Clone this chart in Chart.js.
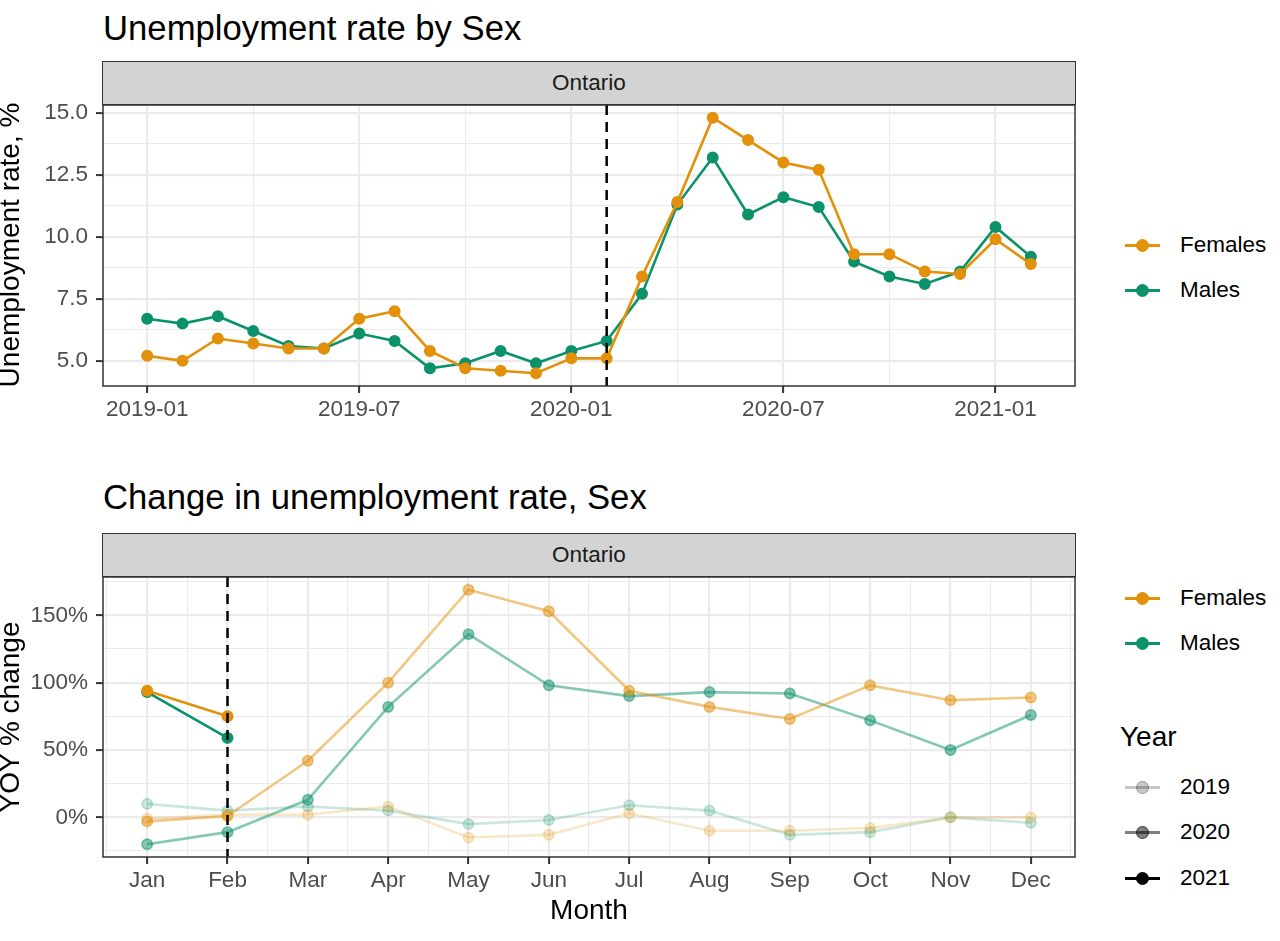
<!DOCTYPE html>
<html>
<head>
<meta charset="utf-8">
<title>Unemployment rate by Sex</title>
<script src="https://cdn.jsdelivr.net/npm/chart.js@4.4.1/dist/chart.umd.min.js"></script>
<style>
  body { margin:0; background:#fff; font-family:"Liberation Sans", Arial, sans-serif; }
  #page { position:relative; width:1280px; height:941px; overflow:hidden; background:#fff; }
  .abs { position:absolute; white-space:nowrap; }
  .title { left:103px; font-size:34.7px; line-height:34px; color:#000; }
  .strip { position:absolute; left:102px; width:974px; height:44px; box-sizing:border-box;
           background:#d3d3d3; border:1.5px solid #333; text-align:center;
           font-size:22.5px; line-height:41px; color:#1a1a1a; }
  .ytitle { font-size:28px; line-height:28px; color:#000; transform:translate(-50%,-50%) rotate(-90deg); }
  .xtitle { font-size:28px; line-height:28px; color:#000; transform:translateX(-50%); }
  .leg { font-size:22.5px; line-height:22.5px; color:#000; }
  .legtitle { font-size:28px; line-height:28px; color:#000; }
  canvas { position:absolute; left:0; }
</style>
</head>
<body>
<div id="page">
  <canvas id="rateChart" width="1090" height="380" style="top:60px"></canvas>
  <canvas id="yoyChart" width="1090" height="400" style="top:532px"></canvas>

  <div class="abs title" style="top:11px">Unemployment rate by Sex</div>
  <div class="strip" style="top:61px">Ontario</div>
  <div class="abs ytitle" style="left:10px;top:245px">Unemployment rate, %</div>

  <div class="abs title" style="top:480px">Change in unemployment rate, Sex</div>
  <div class="strip" style="top:533px">Ontario</div>
  <div class="abs ytitle" style="left:10px;top:717px">YOY % change</div>
  <div class="abs xtitle" style="left:589px;top:896px">Month</div>
</div>

<script>
// ---- data ----
const rateMonths = ['2019-01','2019-02','2019-03','2019-04','2019-05','2019-06','2019-07','2019-08','2019-09','2019-10','2019-11','2019-12',
                    '2020-01','2020-02','2020-03','2020-04','2020-05','2020-06','2020-07','2020-08','2020-09','2020-10','2020-11','2020-12',
                    '2021-01','2021-02'];
const femalesRate = [5.2,5.0,5.9,5.7,5.5,5.5,6.7,7.0,5.4,4.7,4.6,4.5, 5.1,5.1,8.4,11.4,14.8,13.9,13.0,12.7,9.3,9.3,8.6,8.5, 9.9,8.9];
const malesRate   = [6.7,6.5,6.8,6.2,5.6,5.5,6.1,5.8,4.7,4.9,5.4,4.9, 5.4,5.8,7.7,11.3,13.2,10.9,11.6,11.2,9.0,8.4,8.1,8.6, 10.4,9.2];
const rateTickLabels = ['2019-01','2019-07','2020-01','2020-07','2021-01'];
const rateYTicks = [5, 7.5, 10, 12.5, 15];
const rateMarker = '2020-02';

const monthNames = ['Jan','Feb','Mar','Apr','May','Jun','Jul','Aug','Sep','Oct','Nov','Dec'];
const femalesYoy2019 = [-1, 2, 2, 8, -15, -13, 3, -10, -10, -8, 0, 0];
const malesYoy2019   = [10, 5, 8, 5, -5, -2, 9, 5, -13, -11, 0, -4];
const femalesYoy2020 = [-3, 1, 42, 100, 169, 153, 94, 82, 73, 98, 87, 89];
const malesYoy2020   = [-20, -11, 13, 82, 136, 98, 90, 93, 92, 72, 50, 76];
const femalesYoy2021 = [94, 75];
const malesYoy2021   = [93, 59];
const yoyYTicks = [0, 50, 100, 150];
const yoyMarker = 'Feb';

const sexNames = ['Females','Males'];
const years = ['2019','2020','2021'];
const yearAlpha = [0.22, 0.5, 1];

// ---- style ----
const FONT = '"Liberation Sans", Arial, sans-serif';
const ORANGE = '#E3900A';
const GREEN = '#0C926A';

function rgba(hex, a){
  const n = parseInt(hex.slice(1), 16);
  return `rgba(${(n>>16)&255},${(n>>8)&255},${n&255},${a})`;
}
function monthIndex(s){
  const [y,m] = s.split('-').map(Number);
  return (y-2019)*12 + (m-1);
}
function expand(lo, hi){ const d = (hi-lo)*0.05; return [lo-d, hi+d]; }
function halves(majors){
  const step = majors[1]-majors[0], out = [];
  for(let i=-1;i<majors.length;i++) out.push(majors[0] + step*(i+0.5));
  return out;
}

function series(label, data, color, alpha){
  return {
    label, data,
    borderColor: rgba(color, alpha),
    backgroundColor: rgba(color, alpha),
    borderWidth: 2.6,
    pointRadius: 5.2,
    pointHoverRadius: 5.2,
    pointBorderWidth: 1.6,
    pointBackgroundColor: rgba(color, alpha),
    pointBorderColor: rgba(color, alpha),
    tension: 0,
    fill: false
  };
}

function axis(range, majors, fmt, fitSize, horizontal){
  const minors = halves(majors).filter(v => v > range[0] && v < range[1]);
  const isMajor = v => majors.includes(v);
  return {
    type: 'linear', min: range[0], max: range[1],
    afterBuildTicks: s => { s.ticks = majors.concat(minors).sort((a,b)=>a-b).map(v => ({value: v})); },
    afterFit: s => { if(horizontal) s.height = fitSize; else s.width = fitSize; },
    ticks: {
      autoSkip: false, maxRotation: 0, minRotation: 0,
      padding: horizontal ? 3 : 8,
      color: '#4d4d4d',
      font: { size: 22.5, family: FONT },
      callback: v => isMajor(v) ? fmt(v) : ''
    },
    grid: {
      color: '#ebebeb',
      lineWidth: c => (c.tick && isMajor(c.tick.value)) ? 2.2 : 1.1,
      tickLength: 7,
      tickWidth: 2,
      tickColor: c => (c.tick && isMajor(c.tick.value)) ? '#333' : 'rgba(0,0,0,0)'
    },
    border: { display: false }
  };
}

// dashed marker + panel border, on top of the data
const panelDecor = {
  id: 'panelDecor',
  afterDatasetsDraw(chart, args, opts){
    const {ctx, chartArea: a, scales} = chart;
    ctx.save();
    if(opts.vx !== undefined){
      const px = scales.x.getPixelForValue(opts.vx);
      ctx.strokeStyle = '#000';
      ctx.lineWidth = 2.5;
      ctx.setLineDash([10, 7]);
      ctx.beginPath();
      ctx.moveTo(px, a.top);
      ctx.lineTo(px, a.bottom);
      ctx.stroke();
    }
    ctx.setLineDash([]);
    ctx.strokeStyle = '#333';
    ctx.lineWidth = 1.5;
    ctx.strokeRect(a.left, a.top, a.right - a.left, a.bottom - a.top);
    ctx.restore();
  }
};

function baseOptions(padTop, vx, xScale, yScale){
  return {
    animation: false, responsive: false, devicePixelRatio: 1, events: [],
    layout: { padding: { top: padTop, right: 15, left: 0, bottom: 0 } },
    plugins: { legend: { display: false }, tooltip: { enabled: false }, panelDecor: { vx } },
    scales: { x: xScale, y: yScale }
  };
}

// ---- top chart: rate by sex ----
const rateX = rateMonths.map(monthIndex);
const rateMajorX = rateTickLabels.map(monthIndex);
const allRates = femalesRate.concat(malesRate);

new Chart(document.getElementById('rateChart'), {
  type: 'line',
  data: { datasets: [
    series(sexNames[0], femalesRate.map((v,i) => ({x: rateX[i], y: v})), ORANGE, 1),
    series(sexNames[1], malesRate.map((v,i) => ({x: rateX[i], y: v})), GREEN, 1)
  ]},
  options: baseOptions(45, monthIndex(rateMarker),
    axis(expand(rateX[0], rateX[rateX.length-1]), rateMajorX, v => rateTickLabels[rateMajorX.indexOf(v)], 54, true),
    axis(expand(Math.min(...allRates), Math.max(...allRates)), rateYTicks, v => v.toFixed(1), 103, false)),
  plugins: [panelDecor]
});

// ---- bottom chart: YoY change ----
const monthX = monthNames.map((m,i) => i+1);
const pts = arr => arr.map((v,i) => ({x: monthX[i], y: v}));
const allYoy = [].concat(femalesYoy2019, malesYoy2019, femalesYoy2020, malesYoy2020, femalesYoy2021, malesYoy2021);

new Chart(document.getElementById('yoyChart'), {
  type: 'line',
  data: { datasets: [
    series(sexNames[0]+' '+years[2], pts(femalesYoy2021), ORANGE, yearAlpha[2]),
    series(sexNames[1]+' '+years[2], pts(malesYoy2021), GREEN, yearAlpha[2]),
    series(sexNames[0]+' '+years[1], pts(femalesYoy2020), ORANGE, yearAlpha[1]),
    series(sexNames[1]+' '+years[1], pts(malesYoy2020), GREEN, yearAlpha[1]),
    series(sexNames[0]+' '+years[0], pts(femalesYoy2019), ORANGE, yearAlpha[0]),
    series(sexNames[1]+' '+years[0], pts(malesYoy2019), GREEN, yearAlpha[0])
  ]},
  options: baseOptions(45, monthNames.indexOf(yoyMarker)+1,
    axis(expand(monthX[0], monthX[monthX.length-1]), monthX, v => monthNames[v-1], 75, true),
    axis(expand(Math.min(...allYoy), Math.max(...allYoy)), yoyYTicks, v => v + '%', 103, false)),
  plugins: [panelDecor]
});

// ---- legends ----
const page = document.getElementById('page');
function el(cls, css, text){
  const d = document.createElement('div');
  d.className = cls;
  d.style.cssText = css;
  if(text) d.textContent = text;
  page.appendChild(d);
  return d;
}
function legendKey(cy, color, alpha, label){
  el('abs', `left:1125px;top:${cy-1.5}px;width:35px;height:3px;background:${rgba(color, alpha)}`);
  el('abs', `left:${1142.5-6.5}px;top:${cy-6.5}px;width:13px;height:13px;box-sizing:border-box;border-radius:50%;` +
            `background:${rgba(color, alpha)};border:1.5px solid ${rgba(color, alpha)}`);
  el('abs leg', `left:1180px;top:${cy-11}px`, label);
}
legendKey(245, ORANGE, 1, sexNames[0]);
legendKey(290, GREEN, 1, sexNames[1]);
legendKey(598, ORANGE, 1, sexNames[0]);
legendKey(643, GREEN, 1, sexNames[1]);
el('abs legtitle', 'left:1120px;top:723px', 'Year');
[787, 832, 878].forEach((cy, i) => legendKey(cy, '#000000', yearAlpha[i], years[i]));
</script>
</body>
</html>
